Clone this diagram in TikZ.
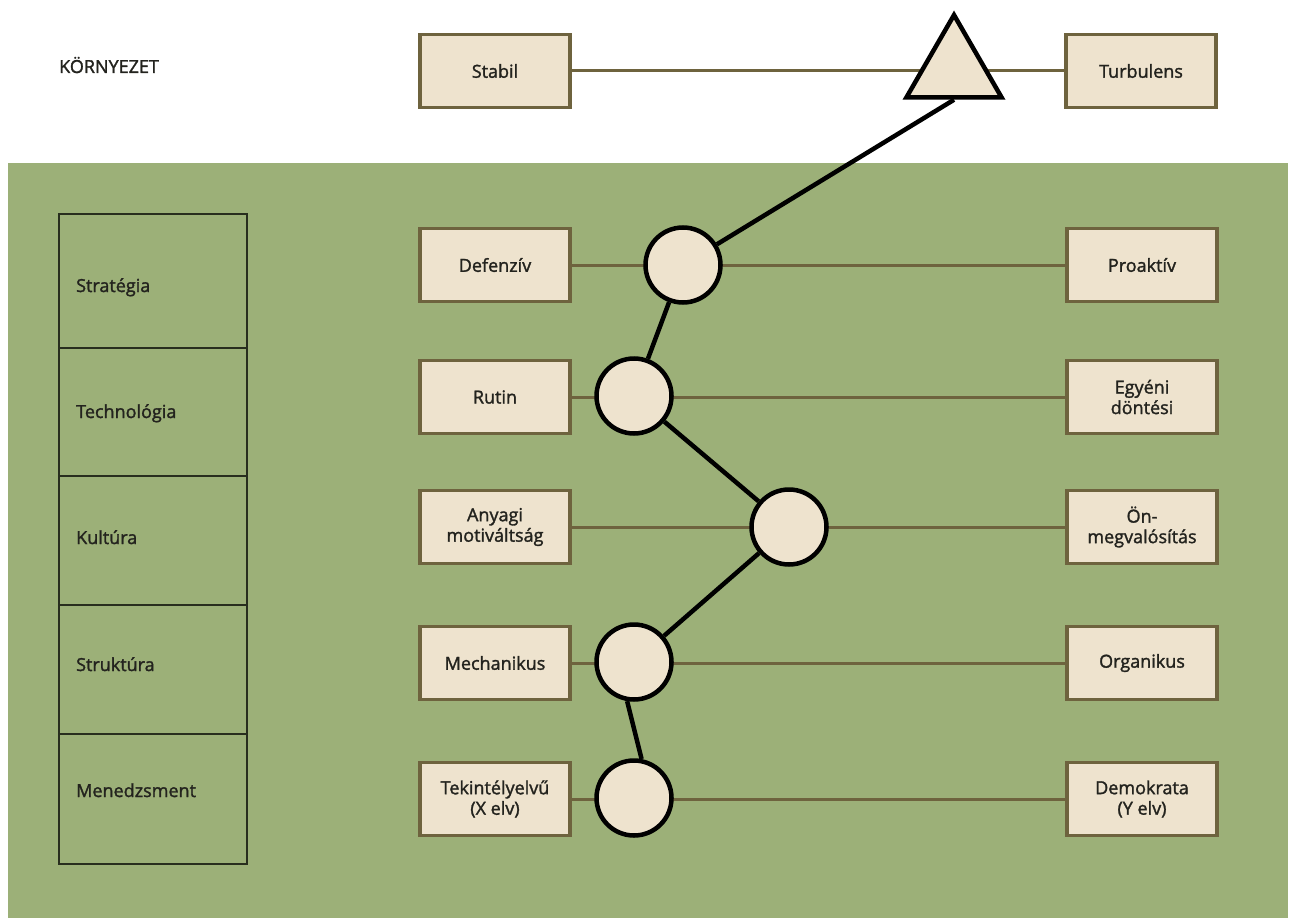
\documentclass[tikz,border=0pt]{standalone}
\usepackage{fontspec}
\setmainfont{Open Sans}
\newfontfamily\lblfont{Open Sans}[FakeBold=1.6]
\usetikzlibrary{shapes.geometric}
\definecolor{bggreen}{RGB}{156,176,120}
\definecolor{beige}{RGB}{238,227,206}
\definecolor{olive}{RGB}{110,99,62}
\definecolor{txt}{RGB}{35,35,30}
\definecolor{tabline}{RGB}{40,46,30}
\tikzset{
  lbl/.style={font=\lblfont\fontsize{18}{20.5}\selectfont, text=txt},
  sbox/.style={lbl, draw=olive, line width=3.5pt, fill=beige, minimum width=150pt, minimum height=73pt, align=center, inner sep=2pt},
  hline/.style={draw=olive, line width=3pt},
  knob/.style={circle, draw=black, line width=4.5pt, fill=beige, minimum size=75pt, inner sep=0pt},
  link/.style={draw=black, line width=4.5pt},
  rowbox/.style={draw=tabline, line width=1.5pt, minimum width=188pt, inner sep=0pt},
  rowtext/.style={lbl, anchor=base west, inner sep=0pt},
}
\begin{document}
\begin{tikzpicture}[x=1pt,y=-1pt]
\useasboundingbox (0,0) rectangle (1289,920);
\fill[white] (0,0) rectangle (1289,920);
\fill[bggreen] (8,163) rectangle (1288,918);

% environment label
\node[rowtext] (env) at (59,73) {KÖRNYEZET};

% left table
\node[rowbox, minimum height=134pt] (r1) at (153,281) {};
\node[rowbox, minimum height=128pt] (r2) at (153,412) {};
\node[rowbox, minimum height=129pt] (r3) at (153,540.5) {};
\node[rowbox, minimum height=129pt] (r4) at (153,669.5) {};
\node[rowbox, minimum height=130pt] (r5) at (153,799) {};
\node[rowtext] (t1) at (76,292) {Stratégia};
\node[rowtext] (t2) at (76,418) {Technológia};
\node[rowtext] (t3) at (76,544) {Kultúra};
\node[rowtext] (t4) at (76,671) {Struktúra};
\node[rowtext] (t5) at (76,797) {Menedzsment};

% boxes
\node[sbox] (stab) at (495,71) {Stabil};
\node[sbox] (turb) at (1141,71) {Turbulens};
\node[sbox] (def) at (495,265) {Defenzív};
\node[sbox] (pro) at (1142,265) {Proaktív};
\node[sbox] (rut) at (495,397) {Rutin};
\node[sbox] (egy) at (1142,397) {Egyéni\\döntési};
\node[sbox] (any) at (495,527) {Anyagi\\motiváltság};
\node[sbox] (onm) at (1142,527) {Ön-\\megvalósítás};
\node[sbox] (mech) at (495,663) {Mechanikus};
\node[sbox] (org) at (1142,663) {Organikus};
\node[sbox] (tek) at (495,799) {Tekintélyelvű\\(X elv)};
\node[sbox] (dem) at (1142,799) {Demokrata\\(Y elv)};

% horizontal scales
\draw[hline] (stab) -- (turb);
\draw[hline] (def) -- (pro);
\draw[hline] (rut) -- (egy);
\draw[hline] (any) -- (onm);
\draw[hline] (mech) -- (org);
\draw[hline] (tek) -- (dem);

% markers
\node[regular polygon, regular polygon sides=3, draw=black, line width=4.5pt, fill=beige, minimum size=110pt, inner sep=0pt] (tri) at (954,70) {};
\node[knob] (c1) at (683,265) {};
\node[knob] (c2) at (634,396) {};
\node[knob] (c3) at (789,527) {};
\node[knob] (c4) at (634,662) {};
\node[knob] (c5) at (634,798) {};

% profile line
\draw[link] (tri.side 2) -- (c1);
\draw[link] (c1) -- (c2);
\draw[link] (c2) -- (c3);
\draw[link] (c3) -- (c4);
\draw[link] (c4.260) -- (c5.79);
\end{tikzpicture}
\end{document}
